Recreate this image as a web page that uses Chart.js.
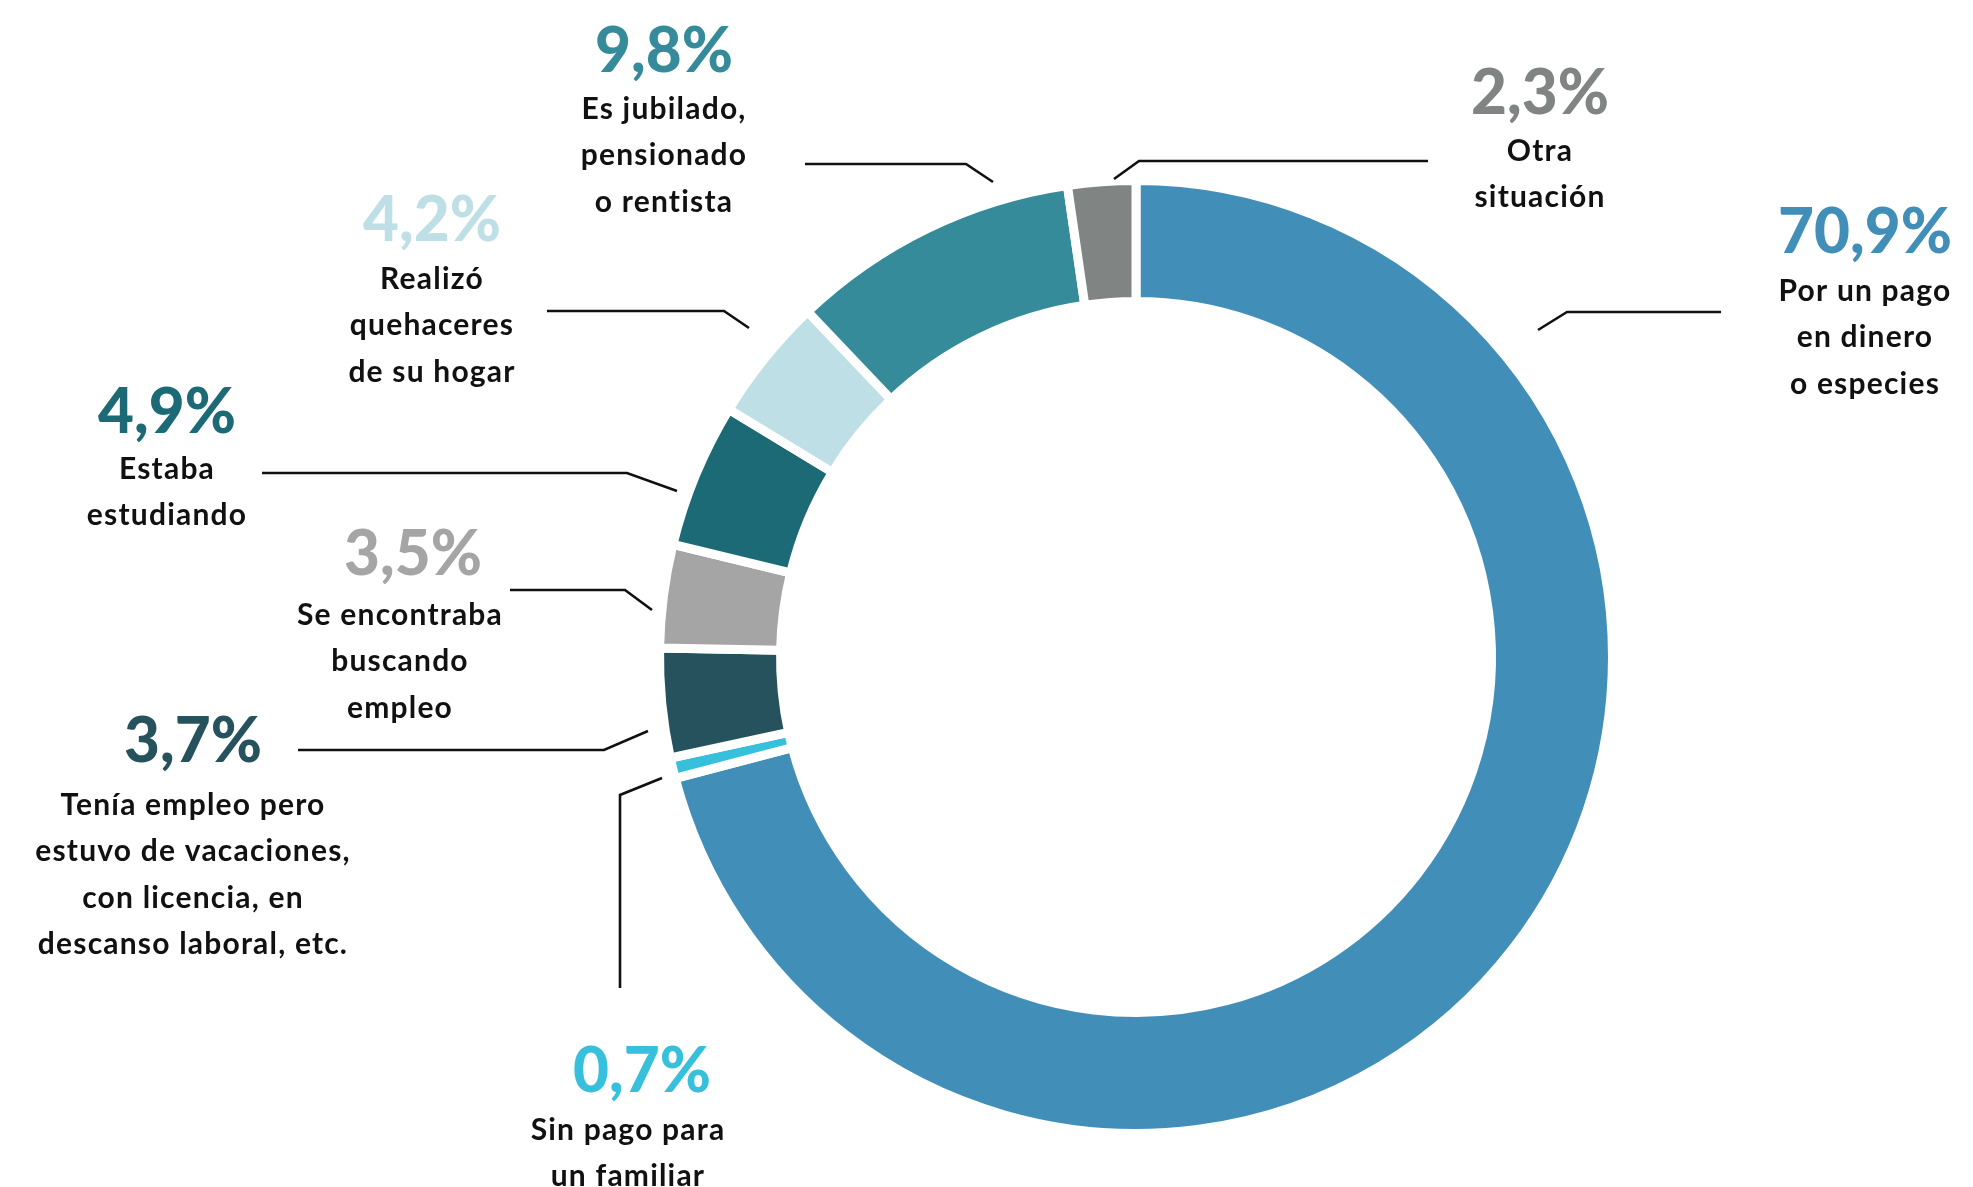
<!DOCTYPE html>
<html>
<head>
<meta charset="utf-8">
<script src="https://cdn.jsdelivr.net/npm/chart.js@4"></script>
<style>
  html, body { margin: 0; padding: 0; background: #ffffff; }
  #wrap { width: 1973px; height: 1187px; position: relative; }
</style>
</head>
<body>
<div id="wrap"><canvas id="donut"></canvas></div>
<script>
// categories, clockwise from the top
const categories = [
  ["Por un pago", "en dinero", "o especies"],
  ["Sin pago para", "un familiar"],
  ["Tenía empleo pero", "estuvo de vacaciones,", "con licencia, en", "descanso laboral, etc."],
  ["Se encontraba", "buscando", "empleo"],
  ["Estaba", "estudiando"],
  ["Realizó", "quehaceres", "de su hogar"],
  ["Es jubilado,", "pensionado", "o rentista"],
  ["Otra", "situación"]
];
const values = [70.9, 0.7, 3.7, 3.5, 4.9, 4.2, 9.8, 2.3];
const colors = ["#418fb9", "#36c0db", "#25525c", "#a5a5a5", "#1d6a77", "#bfdfe6", "#358b9a", "#808483"];

// label placement (pixels): percent centre, text centre, leader polyline
const labelLayout = [
  { x: 1865, textX: 1865, pctY: 233, textY: 291, line: [[1721, 312], [1567, 312], [1538, 330]] },
  { x: 642, textX: 628, pctY: 1072, textY: 1130, line: [[620, 988], [620, 795], [662, 778]] },
  { x: 193, textX: 193, pctY: 742, textY: 805, line: [[298, 750], [604, 750], [648, 731]] },
  { x: 413, textX: 400, pctY: 555, textY: 615, line: [[510, 590], [625, 590], [652, 610]] },
  { x: 167, textX: 167, pctY: 413, textY: 469, line: [[262, 473], [627, 473], [677, 491]] },
  { x: 432, textX: 432, pctY: 221, textY: 279, line: [[547, 311], [724, 311], [749, 328]] },
  { x: 664, textX: 664, pctY: 52, textY: 109, line: [[805, 164], [966, 164], [993, 182]] },
  { x: 1540, textX: 1540, pctY: 94, textY: 151, line: [[1428, 161], [1139, 161], [1114, 179]] }
];

function pctText(v) {
  return v.toFixed(1).replace(".", ",") + "%";
}

const calloutPlugin = {
  id: "callouts",
  afterDraw(chart) {
    const ctx = chart.ctx;
    ctx.save();
    ctx.textAlign = "center";
    ctx.textBaseline = "middle";
    labelLayout.forEach(function (lay, i) {
      // leader line
      ctx.strokeStyle = "#111111";
      ctx.lineWidth = 2.6;
      ctx.beginPath();
      lay.line.forEach(function (p, j) {
        if (j == 0) ctx.moveTo(p[0], p[1]);
        else ctx.lineTo(p[0], p[1]);
      });
      ctx.stroke();

      // big percentage
      ctx.fillStyle = colors[i];
      ctx.font = "900 62px Lato";
      ctx.letterSpacing = "0px";
      ctx.fillText(pctText(values[i]), lay.x, lay.pctY);

      // description
      ctx.fillStyle = "#111111";
      ctx.font = "700 30px Lato";
      ctx.letterSpacing = "1.2px";
      categories[i].forEach(function (t, k) {
        ctx.fillText(t, lay.textX, lay.textY + k * 46.5);
      });
    });
    ctx.restore();
  }
};

const ctx = document.getElementById("donut");

new Chart(ctx, {
  type: "doughnut",
  data: {
    labels: categories.map(function (c) { return c.join(" "); }),
    datasets: [
      {
        data: values,
        backgroundColor: colors,
        borderColor: "#ffffff",
        borderWidth: 9,
        hoverOffset: 0
      }
    ]
  },
  options: {
    responsive: true,
    maintainAspectRatio: false,
    animation: false,
    radius: 476.5,
    cutout: "74.6%",
    layout: {
      padding: { left: 299, right: 0, top: 127, bottom: 0 }
    },
    plugins: {
      legend: { display: false },
      tooltip: { enabled: false }
    }
  },
  plugins: [calloutPlugin]
});
</script>
</body>
</html>
